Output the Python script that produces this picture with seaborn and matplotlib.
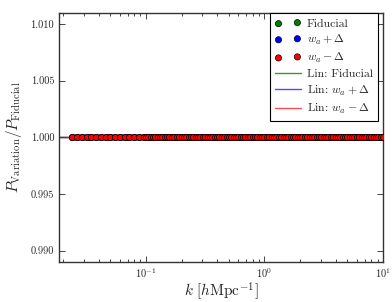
import numpy as np
import pandas as pd
import matplotlib
matplotlib.use("Agg")
import matplotlib.pyplot as plt
import seaborn as sns

# wavenumbers of the measured points [h/Mpc]
k_pts = [0.0240, 0.0263, 0.0288, 0.0316, 0.0347, 0.0380, 0.0417, 0.0457,
         0.0501, 0.0550, 0.0603, 0.0661, 0.0724, 0.0794, 0.0871, 0.0955,
         0.100, 0.105, 0.110, 0.115, 0.120, 0.126, 0.132, 0.138, 0.145,
         0.151, 0.158, 0.166, 0.174, 0.182, 0.191, 0.200, 0.209, 0.219,
         0.229, 0.240, 0.251, 0.263, 0.275, 0.288, 0.302, 0.316, 0.331,
         0.347, 0.363, 0.380, 0.398, 0.417, 0.437, 0.457, 0.479, 0.501,
         0.525, 0.550, 0.575, 0.603, 0.631, 0.661, 0.692, 0.724, 0.759,
         0.794, 0.832, 0.871, 0.912, 0.955, 1.00, 1.05, 1.10, 1.15,
         1.20, 1.26, 1.32, 1.38, 1.45, 1.51, 1.58, 1.66, 1.74, 1.82,
         1.91, 2.00, 2.09, 2.19, 2.29, 2.40, 2.51, 2.63, 2.75, 2.88,
         3.02, 3.16, 3.31, 3.47, 3.63, 3.80, 3.98, 4.17, 4.37, 4.57,
         4.79, 5.01, 5.25, 5.50, 5.75, 6.03, 6.31, 6.61, 6.92, 7.24,
         7.59, 7.94, 8.32, 8.71, 9.12, 9.55, 10.0]
# ratios are flat at 1 within the plotted precision
ratio_fid = [1.0] * len(k_pts)
ratio_plus = [1.0] * len(k_pts)
ratio_minus = [1.0] * len(k_pts)

# linear theory curves
k_lin = [0.0185, 0.05, 0.1, 0.5, 1.0, 5.0, 10.0]
lin_fid = [1.0] * len(k_lin)
lin_plus = [1.0] * len(k_lin)
lin_minus = [1.0] * len(k_lin)

sns.set_style("ticks")
plt.rcParams['font.family'] = ['cmr10', 'DejaVu Serif']
plt.rcParams['mathtext.fontset'] = 'cm'
plt.rcParams['axes.formatter.use_mathtext'] = True
plt.rcParams['xtick.direction'] = 'in'
plt.rcParams['ytick.direction'] = 'in'
plt.rcParams['axes.unicode_minus'] = False

fig = plt.figure(figsize=(3.92, 3.02), dpi=100)
ax = fig.add_axes([0.1505, 0.1325, 0.8265, 0.8255])

sns.lineplot(x=k_lin, y=lin_fid, color='g', lw=1, alpha=0.8, ax=ax, label='Lin: Fiducial')
sns.lineplot(x=k_lin, y=lin_plus, color='b', lw=1, alpha=0.7, ax=ax, label=r'Lin: $w_a+\Delta$')
sns.lineplot(x=k_lin, y=lin_minus, color='r', lw=1, alpha=0.7, ax=ax, label=r'Lin: $w_a-\Delta$')

sns.scatterplot(x=k_pts, y=ratio_fid, color='g', edgecolor='k', linewidth=0.5, s=20, ax=ax, label='Fiducial', zorder=3)
sns.scatterplot(x=k_pts, y=ratio_plus, color='b', edgecolor='k', linewidth=0.5, s=20, ax=ax, label=r'$w_a+\Delta$', zorder=3)
sns.scatterplot(x=k_pts, y=ratio_minus, color='r', edgecolor='k', linewidth=0.5, s=20, ax=ax, label=r'$w_a-\Delta$', zorder=3)

ax.set_xscale('log')
ax.set_xlim(0.0185, 10)
ax.set_ylim(0.989, 1.011)
ax.set_yticks([0.990, 0.995, 1.000, 1.005, 1.010])
ax.yaxis.set_major_formatter(matplotlib.ticker.FormatStrFormatter('%.3f'))
ax.tick_params(which='both', top=True, right=True, labelsize=7.5, width=0.6)
ax.tick_params(axis='x', pad=3)
ax.tick_params(which='major', length=4)
ax.tick_params(which='minor', length=2)
for sp in ax.spines.values():
    sp.set_linewidth(1.0)
    sp.set_color('#333333')

ax.set_xlabel(r'$k\ [h\mathrm{Mpc}^{-1}]$', fontsize=11, labelpad=0)
ax.set_ylabel(r'$P_\mathrm{Variation}/P_\mathrm{Fiducial}$', fontsize=11, labelpad=5)

h, lab = ax.get_legend_handles_labels()
order = [3, 4, 5, 0, 1, 2]
leg = ax.legend([h[i] for i in order], [lab[i] for i in order], loc='upper right',
                bbox_to_anchor=(0.985, 0.998), borderaxespad=0, fontsize=8.5,
                scatterpoints=2, fancybox=False, framealpha=1, edgecolor='k',
                handlelength=2.2, labelspacing=0.35, borderpad=0.45,
                handletextpad=0.5)
leg.get_frame().set_linewidth(0.8)

fig.savefig('out.png', dpi=100)
